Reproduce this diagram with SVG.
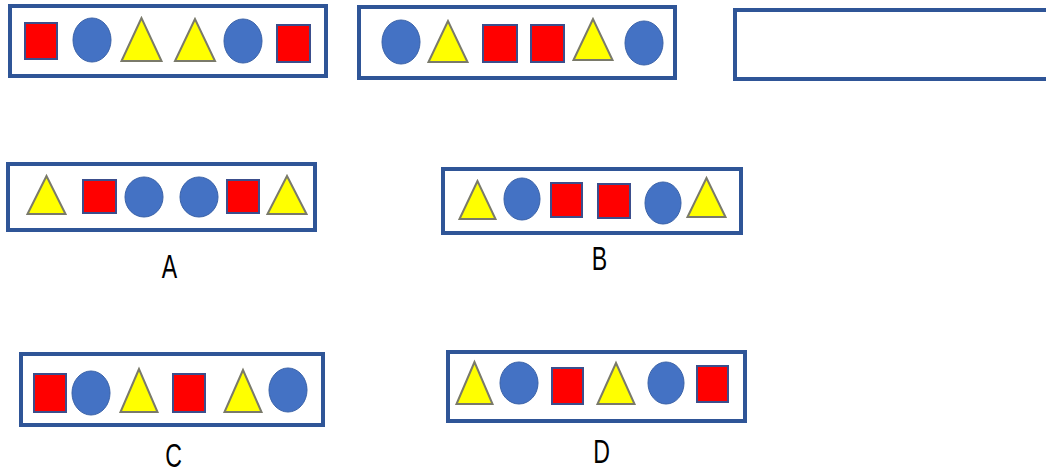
<svg xmlns="http://www.w3.org/2000/svg" width="1046" height="474" viewBox="0 0 1046 474">
<style>
.box{fill:#fff;stroke:#2F5597;stroke-width:4}
.sq{fill:#FF0000;stroke:#3B4E8C;stroke-width:2}
.ci{fill:#4472C4;stroke:#3A62A8;stroke-width:1}
.tr{fill:#FFFF00;stroke:#7A7A6A;stroke-width:2;stroke-linejoin:miter}
.lbl{font-family:"Liberation Sans","DejaVu Sans",sans-serif;font-size:34px;fill:#000;text-anchor:middle}
</style>
<rect width="1046" height="474" fill="#fff"/>
<g id="q1">
<rect class="box" x="10" y="6" width="316" height="70"/>
<rect class="sq" x="25" y="23" width="32" height="36"/>
<ellipse class="ci" cx="92" cy="40" rx="19" ry="22"/>
<polygon class="tr" points="141.5,18 121.5,61 161.5,61"/>
<polygon class="tr" points="195,19 175,61 215,61"/>
<ellipse class="ci" cx="243" cy="41" rx="19" ry="22"/>
<rect class="sq" x="277" y="25" width="33" height="37"/>
</g>
<g id="q2">
<rect class="box" x="359" y="7" width="316" height="71"/>
<ellipse class="ci" cx="401" cy="42" rx="19" ry="22"/>
<polygon class="tr" points="448,21 428.5,62 467.5,62"/>
<rect class="sq" x="483" y="25" width="34" height="37"/>
<rect class="sq" x="531" y="25" width="33" height="37"/>
<polygon class="tr" points="593,19 573.5,60 612.5,60"/>
<ellipse class="ci" cx="644" cy="43" rx="19" ry="22"/>
</g>
<g id="q3">
<rect class="box" x="735" y="10" width="330" height="69"/>
</g>
<g id="optA">
<rect class="box" x="8" y="164" width="307" height="66"/>
<polygon class="tr" points="46.5,176 27.5,214 65.5,214"/>
<rect class="sq" x="83" y="180" width="33" height="33"/>
<ellipse class="ci" cx="144" cy="197" rx="19" ry="20"/>
<ellipse class="ci" cx="199" cy="197" rx="19" ry="20"/>
<rect class="sq" x="227" y="180" width="32" height="33"/>
<polygon class="tr" points="287,176 267.5,214 306.5,214"/>
<text class="lbl" transform="translate(169.5,278) scale(0.68,1)">A</text>
</g>
<g id="optB">
<rect class="box" x="443" y="169" width="298" height="64"/>
<polygon class="tr" points="477.5,181 459.5,219 495.5,219"/>
<ellipse class="ci" cx="522" cy="199" rx="18" ry="21"/>
<rect class="sq" x="551" y="183" width="31" height="34"/>
<rect class="sq" x="598" y="184" width="32" height="34"/>
<ellipse class="ci" cx="663" cy="203" rx="18" ry="21"/>
<polygon class="tr" points="706.5,178 687.5,217 725.5,217"/>
<text class="lbl" transform="translate(599.5,270) scale(0.68,1)">B</text>
</g>
<g id="optC">
<rect class="box" x="21" y="354" width="302" height="71"/>
<rect class="sq" x="34" y="374" width="32" height="38"/>
<ellipse class="ci" cx="91" cy="393" rx="19" ry="22"/>
<polygon class="tr" points="139,369 120.5,412 157.5,412"/>
<rect class="sq" x="173" y="374" width="32" height="38"/>
<polygon class="tr" points="243,370 224.5,412 261.5,412"/>
<ellipse class="ci" cx="288" cy="390" rx="19" ry="22"/>
<text class="lbl" transform="translate(173.5,467) scale(0.68,1)">C</text>
</g>
<g id="optD">
<rect class="box" x="448" y="352" width="297" height="69"/>
<polygon class="tr" points="474.5,362 456.5,404 492.5,404"/>
<ellipse class="ci" cx="519" cy="383" rx="19" ry="21"/>
<rect class="sq" x="552" y="368" width="31" height="36"/>
<polygon class="tr" points="616,363 597.5,404 634.5,404"/>
<ellipse class="ci" cx="666" cy="383" rx="18" ry="21"/>
<rect class="sq" x="697" y="366" width="31" height="36"/>
<text class="lbl" transform="translate(601.5,463) scale(0.68,1)">D</text>
</g>
</svg>
